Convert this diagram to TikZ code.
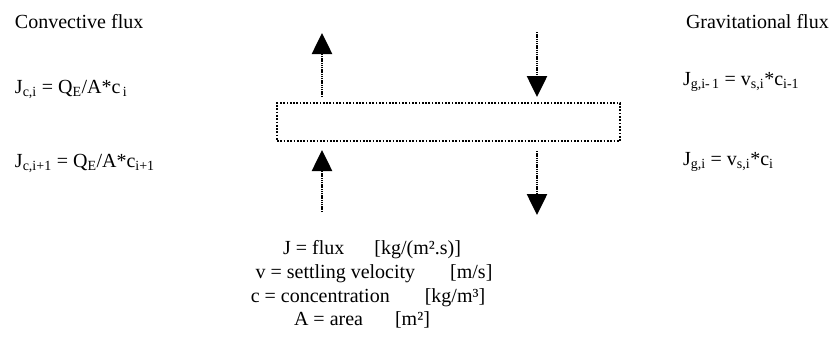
\documentclass[tikz,border=0pt]{standalone}
\usepackage{fontspec}
\setmainfont{Liberation Serif}
\usetikzlibrary{arrows.meta}

\begin{document}
\begin{tikzpicture}[
  x=1pt,
  y=-1pt,
  font=\fontsize{20}{24}\selectfont,
  lbl/.style={
    anchor=base west,
    inner sep=0pt,
    outer sep=0pt
  },
  keyline/.style={
    anchor=base,
    inner sep=0pt,
    outer sep=0pt
  },
  slab/.style={
    draw,
    line width=1.7pt,
    dash pattern=on 1.7pt off 1.6pt,
    minimum width=343pt,
    minimum height=38pt,
    inner sep=0pt
  },
  fluxarr/.style={
    line width=2.6pt,
    dash pattern=on 1.4pt off 0.8pt,
    -{Triangle[length=21pt,width=20pt]}
  }
]
\useasboundingbox (0,0) rectangle (836,349);

\node[lbl] (convtitle) at (15,28) {Convective flux};
\node[lbl] (convtop) at (15,93)
  {J\textsubscript{c,i} = Q\textsubscript{E}/A*c\textsubscript{\,i}};
\node[lbl] (convbot) at (15,167)
  {J\textsubscript{c,i+1} = Q\textsubscript{E}/A*c\textsubscript{i+1}};

\node[lbl] (gravtitle) at (686,28) {Gravitational flux};
\node[lbl] (gravtop) at (683,85)
  {J\textsubscript{g,i-\,1} = v\textsubscript{s,i}*c\textsubscript{i-1}};
\node[lbl] (gravbot) at (683,165)
  {J\textsubscript{g,i} = v\textsubscript{s,i}*c\textsubscript{i}};

\node[slab] (layer) at (448.5,122) {};

\coordinate (cupa) at (322,97);
\coordinate (cupb) at (322,33);
\coordinate (cloa) at (322,212);
\coordinate (clob) at (322,150);
\coordinate (gupa) at (537,32);
\coordinate (gupb) at (537,97);
\coordinate (gloa) at (537,151);
\coordinate (glob) at (537,215);

\draw[fluxarr] (cupa) -- (cupb);
\draw[fluxarr] (cloa) -- (clob);
\draw[fluxarr] (gupa) -- (gupb);
\draw[fluxarr] (gloa) -- (glob);

\node[keyline] (key1) at (372,254)
  {J = flux\hspace{30pt}[kg/(m².s)]};
\node[keyline] (key2) at (374,278)
  {v = settling velocity\hspace{35pt}[m/s]};
\node[keyline] (key3) at (368,302)
  {c = concentration\hspace{35pt}[kg/m³]};
\node[keyline] (key4) at (362,325)
  {A = area\hspace{32pt}[m²]};

\end{tikzpicture}
\end{document}
